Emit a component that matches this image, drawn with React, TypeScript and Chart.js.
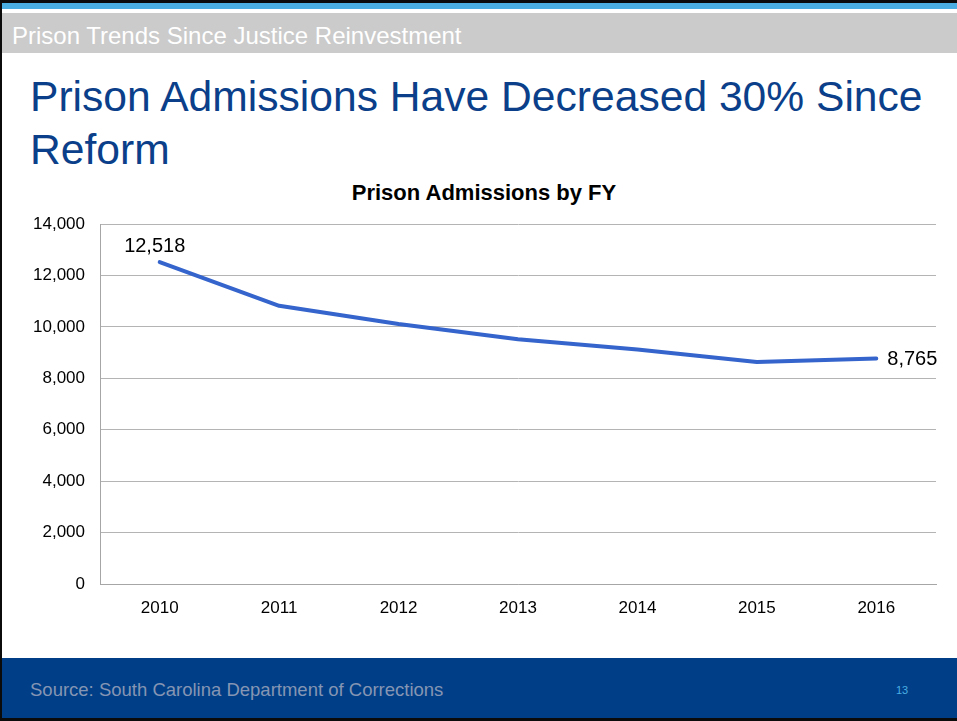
import React, { useEffect, useRef } from "react";
import { Chart, registerables } from "chart.js";

Chart.register(...registerables);

const years = ["2010", "2011", "2012", "2013", "2014", "2015", "2016"];
const admissions = [12518, 10820, 10110, 9520, 9120, 8630, 8765];
const yTicks = [0, 2000, 4000, 6000, 8000, 10000, 12000, 14000];

const FONT = "'Liberation Sans', Arial, sans-serif";

const labelPlugin = {
  id: "endLabels",
  afterDatasetsDraw(chart: any) {
    const meta = chart.getDatasetMeta(0);
    const ctx = chart.ctx;
    const first = meta.data[0];
    const last = meta.data[meta.data.length - 1];
    ctx.save();
    ctx.fillStyle = "#000";
    ctx.font = `20px ${FONT}`;
    ctx.textBaseline = "middle";
    ctx.textAlign = "center";
    ctx.fillText(admissions[0].toLocaleString("en-US"), first.x - 5, first.y - 16);
    ctx.textAlign = "left";
    ctx.fillText(admissions[admissions.length - 1].toLocaleString("en-US"), last.x + 11, last.y + 1);
    ctx.restore();
  },
};

export default function App() {
  const ref = useRef<HTMLCanvasElement | null>(null);

  useEffect(() => {
    if (!ref.current) return;
    const chart = new Chart(ref.current, {
      type: "line",
      data: {
        labels: years,
        datasets: [
          {
            data: admissions,
            borderColor: "#3464CC",
            borderWidth: 4,
            pointRadius: 0,
            tension: 0,
            borderCapStyle: "round",
            borderJoinStyle: "round",
            fill: false,
          },
        ],
      },
      options: {
        animation: false,
        responsive: false,
        maintainAspectRatio: false,
        layout: { padding: { top: 224, right: 21, left: 0, bottom: 0 } },
        plugins: { legend: { display: false }, tooltip: { enabled: false }, title: { display: false } },
        scales: {
          x: {
            offset: true,
            grid: { display: false, drawTicks: false },
            border: { display: true, color: "#A6A6A6", width: 1 },
            ticks: { padding: 14, color: "#000", font: { family: FONT, size: 17 } },
            afterFit: (axis: any) => {
              axis.height = 137;
            },
          },
          y: {
            min: 0,
            max: 14000,
            afterBuildTicks: (axis: any) => {
              axis.ticks = yTicks.map((v) => ({ value: v }));
            },
            grid: { color: "#B4B4B4", lineWidth: 1, drawTicks: false },
            border: { display: true, color: "#A6A6A6", width: 1 },
            ticks: {
              padding: 15,
              color: "#000",
              font: { family: FONT, size: 17 },
              callback: (v: any) => Number(v).toLocaleString("en-US"),
            },
            afterFit: (axis: any) => {
              axis.width = 100;
            },
          },
        },
      },
      plugins: [labelPlugin],
    });
    return () => chart.destroy();
  }, []);

  return (
    <div
      style={{
        position: "fixed",
        left: 0,
        top: 0,
        width: 957,
        height: 721,
        background: "#fff",
        overflow: "hidden",
        fontFamily: FONT,
      }}
    >
      <div style={{ position: "absolute", left: 0, top: 0, width: 957, height: 3, background: "#0B0B0B" }} />
      <div style={{ position: "absolute", left: 0, top: 3, width: 957, height: 6, background: "#4AAEE3" }} />
      <div style={{ position: "absolute", left: 0, top: 13, width: 957, height: 40, background: "#CBCBCB" }} />
      <div
        style={{
          position: "absolute",
          left: 12,
          top: 16,
          height: 40,
          lineHeight: "40px",
          fontSize: 24,
          color: "#FFFFFF",
          whiteSpace: "nowrap",
        }}
      >
        Prison Trends Since Justice Reinvestment
      </div>
      <div
        style={{
          position: "absolute",
          left: 30,
          top: 70,
          width: 925,
          fontSize: 42.6,
          lineHeight: "53px",
          color: "#0B3F8A",
          whiteSpace: "nowrap",
        }}
      >
        Prison Admissions Have Decreased 30% Since
        <br />
        Reform
      </div>
      <div
        style={{
          position: "absolute",
          left: 0,
          top: 179,
          width: 968,
          textAlign: "center",
          fontSize: 22,
          fontWeight: "bold",
          lineHeight: "28px",
          color: "#000",
        }}
      >
        Prison Admissions by FY
      </div>
      <div style={{ position: "absolute", left: 0, top: 658, width: 957, height: 60, background: "#003F87" }} />
      <div
        style={{
          position: "absolute",
          left: 30,
          top: 676,
          fontSize: 18.5,
          lineHeight: "28px",
          color: "#8595B3",
          whiteSpace: "nowrap",
        }}
      >
        Source: South Carolina Department of Corrections
      </div>
      <div
        style={{
          position: "absolute",
          left: 896,
          top: 682,
          fontSize: 11,
          lineHeight: "16px",
          color: "#4AAEE3",
        }}
      >
        13
      </div>
      <canvas ref={ref} width={957} height={721} style={{ position: "absolute", left: 0, top: 0 }} />
      <div style={{ position: "absolute", left: 0, top: 718, width: 957, height: 3, background: "#0B0B0B" }} />
      <div style={{ position: "absolute", left: 0, top: 0, width: 2, height: 721, background: "#0B0B0B" }} />
    </div>
  );
}
